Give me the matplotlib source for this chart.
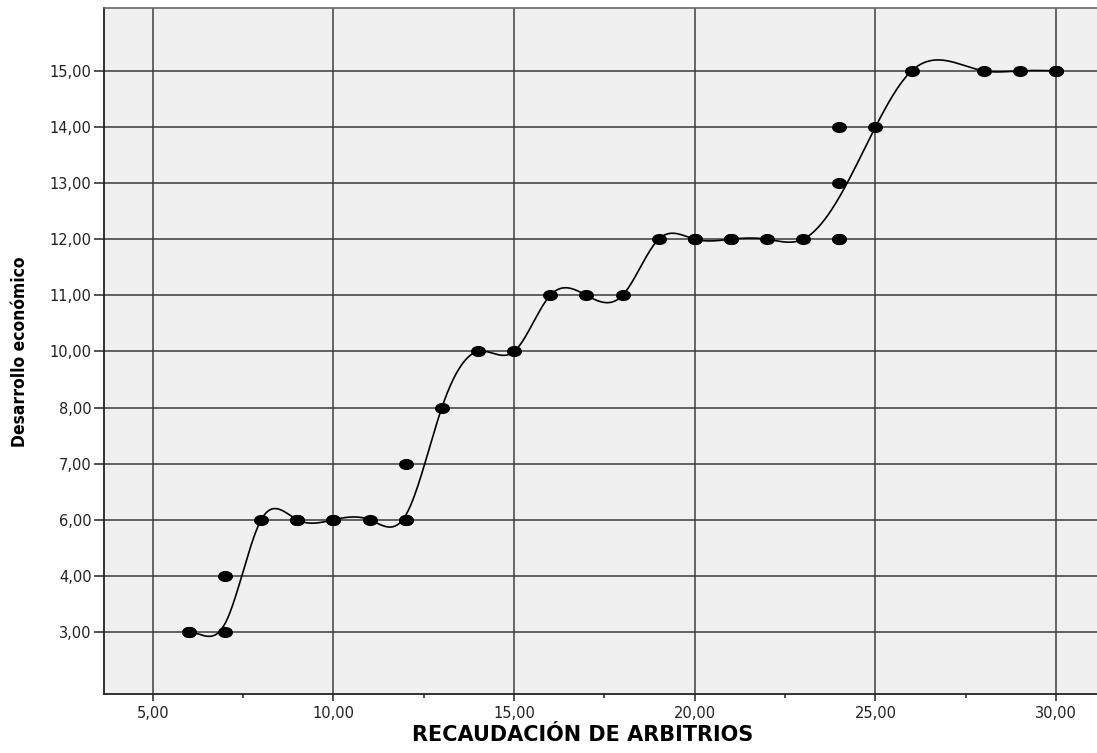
import numpy as np
import matplotlib
matplotlib.use("Agg")
import matplotlib.pyplot as plt
from matplotlib import font_manager
from matplotlib.markers import MarkerStyle
from matplotlib.transforms import Affine2D

# observed cases (x = recaudacion, y = desarrollo), duplicates repeated
obs_x = [6, 6, 7, 7, 8, 9, 9, 10, 10, 11, 12, 12, 12, 13, 14, 15, 16, 17, 18,
         19, 20, 20, 21, 21, 22, 23, 24, 24, 24, 24, 25, 26, 28, 29, 30, 30]
obs_y = [3, 3, 4, 3, 6, 6, 6, 6, 6, 6, 7, 6, 6, 8, 10, 10, 11, 11, 11,
         12, 12, 12, 12, 12, 12, 12, 14, 13, 12, 12, 14, 15, 15, 15, 15, 15]

# y axis categories (evenly spaced, SPSS style)
y_levels = [3, 4, 6, 7, 8, 10, 11, 12, 13, 14, 15]
x_ticks = [5, 10, 15, 20, 25, 30]

# interpolation line: mean category position at each x
knot_x = [6, 7, 8, 9, 10, 11, 12, 13, 14, 15, 16, 17, 18, 19, 20, 21, 22, 23,
          24, 25, 26, 28, 29, 30]
knot_pos = [0, 0.15, 2, 2, 2, 2, 2.08, 4, 5, 5, 6, 6, 6, 7, 7, 7, 7, 7,
            7.75, 9, 10, 10, 10, 10]


def spline(x, y, xs):
    # cubic spline, zero slope at the first knot, natural at the last one
    x = np.asarray(x, float)
    y = np.asarray(y, float)
    n = len(x)
    h = np.diff(x)
    A = np.zeros((n, n))
    b = np.zeros(n)
    A[0, 0] = 2 * h[0]
    A[0, 1] = h[0]
    b[0] = 3 * (y[1] - y[0]) / h[0]
    A[-1, -1] = 1
    for i in range(1, n - 1):
        A[i, i - 1] = h[i - 1]
        A[i, i] = 2 * (h[i - 1] + h[i])
        A[i, i + 1] = h[i]
        b[i] = 3 * ((y[i + 1] - y[i]) / h[i] - (y[i] - y[i - 1]) / h[i - 1])
    c = np.linalg.solve(A, b)
    bb = (y[1:] - y[:-1]) / h - h * (2 * c[:-1] + c[1:]) / 3
    d = (c[1:] - c[:-1]) / (3 * h)
    idx = np.clip(np.searchsorted(x, xs) - 1, 0, n - 2)
    t = xs - x[idx]
    return y[idx] + bb[idx] * t + c[idx] * t ** 2 + d[idx] * t ** 3


# condensed font for the y label if one is installed
fonts = font_manager.fontManager.ttflist
if any(f.name == "Liberation Sans Narrow" for f in fonts):
    ylab_font = dict(family="Liberation Sans Narrow", fontsize=14)
elif any(f.name == "DejaVu Sans" and f.stretch == "condensed" for f in fonts):
    ylab_font = dict(family="DejaVu Sans", fontstretch="condensed", fontsize=12.5)
else:
    ylab_font = dict(family="Liberation Sans", fontsize=13)

pos = {v: i for i, v in enumerate(y_levels)}
obs_pos = [pos[v] for v in obs_y]

fig = plt.figure(figsize=(10.97, 7.53), dpi=100)
ax = fig.add_axes([104 / 1097, 1 - 694 / 753, 1 - 104 / 1097, (694 - 8) / 753])
ax.set_facecolor("#f0f0f0")

ax.set_xlim(3.65, 31.13)
ax.set_ylim(-1.105, 11.12)

ax.set_xticks(x_ticks)
ax.set_xticklabels([f"{v:.2f}".replace(".", ",") for v in x_ticks])
ax.set_xticks([7.5, 12.5, 17.5, 22.5, 27.5], minor=True)
ax.set_yticks(range(len(y_levels)))
ax.set_yticklabels([f"{v:.2f}".replace(".", ",") for v in y_levels])

for v in x_ticks:
    ax.axvline(v, color="#5a5a5a", lw=1.3, zorder=1)
for i in range(len(y_levels)):
    ax.axhline(i, color="#3a3a3a", lw=1.1, zorder=1)

xs = np.linspace(knot_x[0], knot_x[-1], 800)
ax.plot(xs, spline(knot_x, knot_pos, xs), color="black", lw=1.2, zorder=3)

mk = MarkerStyle("o", transform=Affine2D().scale(1.4, 1.0))
ax.plot(obs_x, obs_pos, linestyle="none", marker=mk, markersize=7,
        color="black", zorder=4)

for s in ["left", "bottom"]:
    ax.spines[s].set_color("#222222")
    ax.spines[s].set_linewidth(1.3)
ax.spines["top"].set_color("#666666")
ax.spines["top"].set_linewidth(1.2)
ax.spines["right"].set_visible(False)

ax.tick_params(axis="both", which="major", direction="out", width=1.1,
               color="#222222", labelsize=10.5, labelcolor="#222222",
               labelfontfamily="DejaVu Sans")
ax.tick_params(axis="x", which="major", length=5, pad=4)
ax.tick_params(axis="y", which="major", length=7, pad=2)
ax.tick_params(axis="x", which="minor", direction="out", length=3,
               width=1.1, color="#222222")

fig.text(583 / 1097, 1 - 735 / 753, "RECAUDACIÓN DE ARBITRIOS", ha="center",
         va="center", fontsize=15, fontweight="bold", family="DejaVu Sans")
fig.text(20 / 1097, 1 - 352 / 753, "Desarrollo económico", ha="center",
         va="center", rotation=90, fontweight="bold", **ylab_font)

fig.savefig("out.png", dpi=100)
